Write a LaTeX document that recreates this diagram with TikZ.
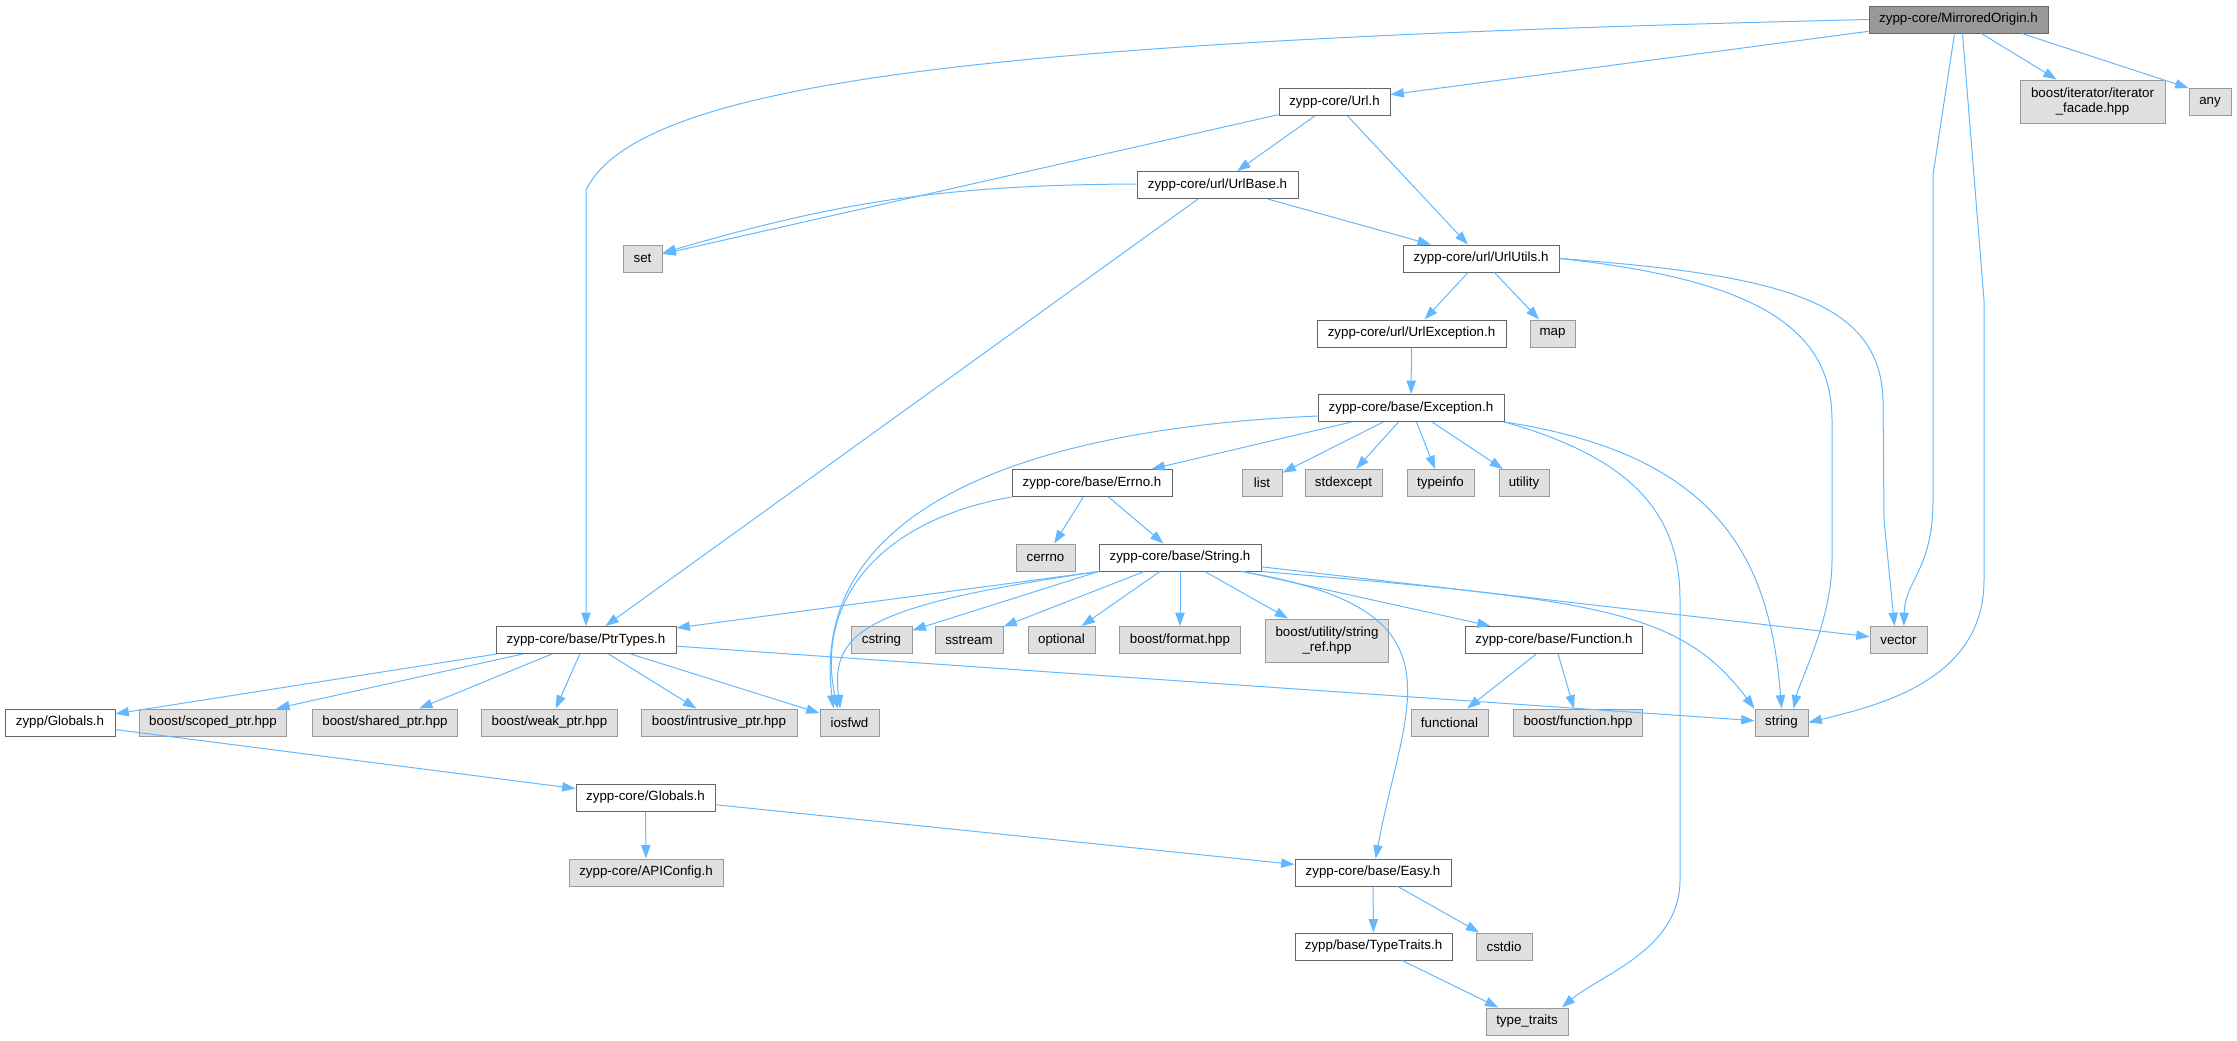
\documentclass[tikz,border=0pt]{standalone}
\usepackage{fontspec}
\setmainfont{Liberation Sans}
\usetikzlibrary{arrows.meta}
\definecolor{doxyedge}{RGB}{99,184,255}
\definecolor{doxyline}{RGB}{102,102,102}
\definecolor{doxyextline}{RGB}{153,153,153}
\definecolor{doxyextfill}{RGB}{224,224,224}
\definecolor{doxyroot}{RGB}{153,153,153}

\begin{document}
\begin{tikzpicture}[x=0.75pt,y=-0.75pt,
  box/.style={rectangle,line width=0.75pt,inner sep=1pt,minimum height=20.25pt,font=\fontsize{10}{11.5}\selectfont,align=center},
  hdr/.style={box,draw=doxyline,fill=white},
  ext/.style={box,draw=doxyextline,fill=doxyextfill},
  root/.style={box,draw=doxyline,fill=doxyroot},
  dep/.style={draw=doxyedge,line width=0.75pt,-{Triangle[length=10pt,width=7pt]}}]
\useasboundingbox (0,0) rectangle (2237,1040);

\node[root,minimum width=134.25pt] (mo) at (1958.5,19.5) {zypp-core/MirroredOrigin.h};
\node[hdr,minimum width=83.25pt] (url) at (1334.5,102) {zypp-core/Url.h};
\node[ext,minimum width=108.75pt,minimum height=32.25pt] (itf) at (2092.5,101.5) {boost/iterator/iterator\\\_facade.hpp};
\node[ext,minimum width=31.5pt] (any) at (2210,102) {any};
\node[hdr,minimum width=120.75pt] (ubase) at (1217.5,185) {zypp-core/url/UrlBase.h};
\node[ext,minimum width=29.25pt] (set) at (642.5,258.5) {set};
\node[hdr,minimum width=117pt] (uutil) at (1481,258.5) {zypp-core/url/UrlUtils.h};
\node[hdr,minimum width=141.75pt] (uexc) at (1411.5,333.5) {zypp-core/url/UrlException.h};
\node[ext,minimum width=33.75pt] (map) at (1552.5,333.5) {map};
\node[hdr,minimum width=139.5pt] (exc) at (1411,408) {zypp-core/base/Exception.h};
\node[hdr,minimum width=120pt] (errno) at (1092,483) {zypp-core/base/Errno.h};
\node[ext,minimum width=30pt] (list) at (1262,483) {list};
\node[ext,minimum width=57.75pt] (stdexc) at (1343.5,483) {stdexcept};
\node[ext,minimum width=50.25pt] (tinfo) at (1440.5,483) {typeinfo};
\node[ext,minimum width=37.5pt] (util) at (1524,483) {utility};
\node[ext,minimum width=44.25pt] (cerrno) at (1045.5,557.5) {cerrno};
\node[hdr,minimum width=121.5pt] (str) at (1180,557.5) {zypp-core/base/String.h};
\node[hdr,minimum width=135pt] (ptr) at (586,640) {zypp-core/base/PtrTypes.h};
\node[ext,minimum width=45.75pt] (cstr) at (881.5,640) {cstring};
\node[ext,minimum width=51pt] (sstr) at (969,640) {sstream};
\node[ext,minimum width=50.25pt] (opt) at (1061.5,640) {optional};
\node[ext,minimum width=91pt] (fmt) at (1180,640) {boost/format.hpp};
\node[ext,minimum width=92.5pt,minimum height=32.25pt] (sref) at (1327,640.5) {boost/utility/string\\\_ref.hpp};
\node[hdr,minimum width=133pt] (func) at (1554,640) {zypp-core/base/Function.h};
\node[ext,minimum width=42.75pt] (vec) at (1898.5,640) {vector};
\node[hdr,minimum width=82.5pt] (zglob) at (60,722.5) {zypp/Globals.h};
\node[ext,minimum width=110.5pt] (scp) at (213,722.5) {boost/scoped\_ptr.hpp};
\node[ext,minimum width=109pt] (shp) at (385,722.5) {boost/shared\_ptr.hpp};
\node[ext,minimum width=102pt] (wkp) at (549.5,722.5) {boost/weak\_ptr.hpp};
\node[ext,minimum width=117pt] (inp) at (719,722.5) {boost/intrusive\_ptr.hpp};
\node[ext,minimum width=44.25pt] (iosfwd) at (849.5,722.5) {iosfwd};
\node[ext,minimum width=57.75pt] (fnl) at (1449.5,722.5) {functional};
\node[ext,minimum width=97pt] (bfn) at (1578,722.5) {boost/function.hpp};
\node[ext,minimum width=39.75pt] (string) at (1781.5,722.5) {string};
\node[hdr,minimum width=104.25pt] (cglob) at (645.5,797.5) {zypp-core/Globals.h};
\node[ext,minimum width=115.5pt] (api) at (646,872.5) {zypp-core/APIConfig.h};
\node[hdr,minimum width=117pt] (easy) at (1373,872.5) {zypp-core/base/Easy.h};
\node[hdr,minimum width=117.75pt] (ttr) at (1373.5,946.5) {zypp/base/TypeTraits.h};
\node[ext,minimum width=42pt] (cstdio) at (1504,946.5) {cstdio};
\node[ext,minimum width=61.5pt] (tt) at (1527,1021.5) {type\_traits};

\draw[dep] (mo.west) .. controls (1000,40) and (640,80) .. (586,190) -- (ptr);
\draw[dep] (mo) -- (url);
\draw[dep] (mo) -- (itf);
\draw[dep] ([xshift=-20pt]mo.south east) -- (any.north west);
\draw[dep] ([xshift=-3pt]mo.south) -- (1933,175) -- (1933,500) .. controls (1933,570) and (1905,580) .. ([xshift=4pt]vec.north);
\draw[dep] ([xshift=3pt]mo.south) -- (1984,300) -- (1984,580) .. controls (1984,680) and (1880,705) .. (string.east);

\draw[dep] (url) -- (set);
\draw[dep] (url) -- (ubase);
\draw[dep] (url) -- (uutil);

\draw[dep] (ubase) to[bend right=8] (set);
\draw[dep] (ubase) -- (uutil);
\draw[dep] (ubase) -- (ptr);

\draw[dep] (uutil) -- (uexc);
\draw[dep] (uutil) -- (map);
\draw[dep] (uutil.east) .. controls (1760,280) and (1832,330) .. (1832,420) -- (1832,560) .. controls (1832,620) and (1800,680) .. ([xshift=9pt]string.north);
\draw[dep] (uutil.east) .. controls (1780,275) and (1880,300) .. (1883,400) -- (1884,520) -- ([xshift=-3pt]vec.north);

\draw[dep] (uexc) -- (exc);

\draw[dep] (exc) -- (errno);
\draw[dep] (exc) -- (list);
\draw[dep] (exc) -- (stdexc);
\draw[dep] (exc) -- (tinfo);
\draw[dep] (exc) -- (util);
\draw[dep] ([yshift=-6pt]exc.west) .. controls (1000,430) and (810,520) .. ([xshift=-12pt]iosfwd.north);
\draw[dep] (exc.south east) .. controls (1720,455) and (1770,560) .. (string.north);
\draw[dep] (exc.south east) .. controls (1640,460) and (1680,520) .. (1680,600) -- (1680,880) .. controls (1680,950) and (1600,975) .. ([xshift=-5pt]tt.north east);

\draw[dep] (errno) -- (cerrno);
\draw[dep] (errno) -- (str);
\draw[dep] (errno.south west) .. controls (880,520) and (815,600) .. ([xshift=-9pt]iosfwd.north);

\draw[dep] (str.south west) -- (ptr);
\draw[dep] (str.south west) .. controls (870,605) and (830,630) .. ([xshift=-7pt]iosfwd.north);
\draw[dep] (str.south west) -- (cstr);
\draw[dep] (str) -- (sstr);
\draw[dep] (str) -- (opt);
\draw[dep] (str) -- (fmt);
\draw[dep] (str) -- (sref);
\draw[dep] (str) -- (func);
\draw[dep] ([xshift=-15pt]str.south east) .. controls (1470,610) and (1405,700) .. (easy);
\draw[dep] (str) -- (vec);
\draw[dep] (str.south east) .. controls (1600,600) and (1680,610) .. (string.north west);

\draw[dep] (ptr) -- (zglob);
\draw[dep] (ptr) -- (scp);
\draw[dep] (ptr) -- (shp);
\draw[dep] (ptr) -- (wkp);
\draw[dep] (ptr) -- (inp);
\draw[dep] (ptr) -- (iosfwd);
\draw[dep] (ptr) -- (string);

\draw[dep] (func) -- (fnl);
\draw[dep] (func) -- (bfn);

\draw[dep] (zglob) -- (cglob);
\draw[dep] (cglob) -- (api);
\draw[dep] (cglob) -- (easy);
\draw[dep] (easy) -- (ttr);
\draw[dep] (easy) -- (cstdio);
\draw[dep] (ttr) -- (tt);
\end{tikzpicture}
\end{document}
